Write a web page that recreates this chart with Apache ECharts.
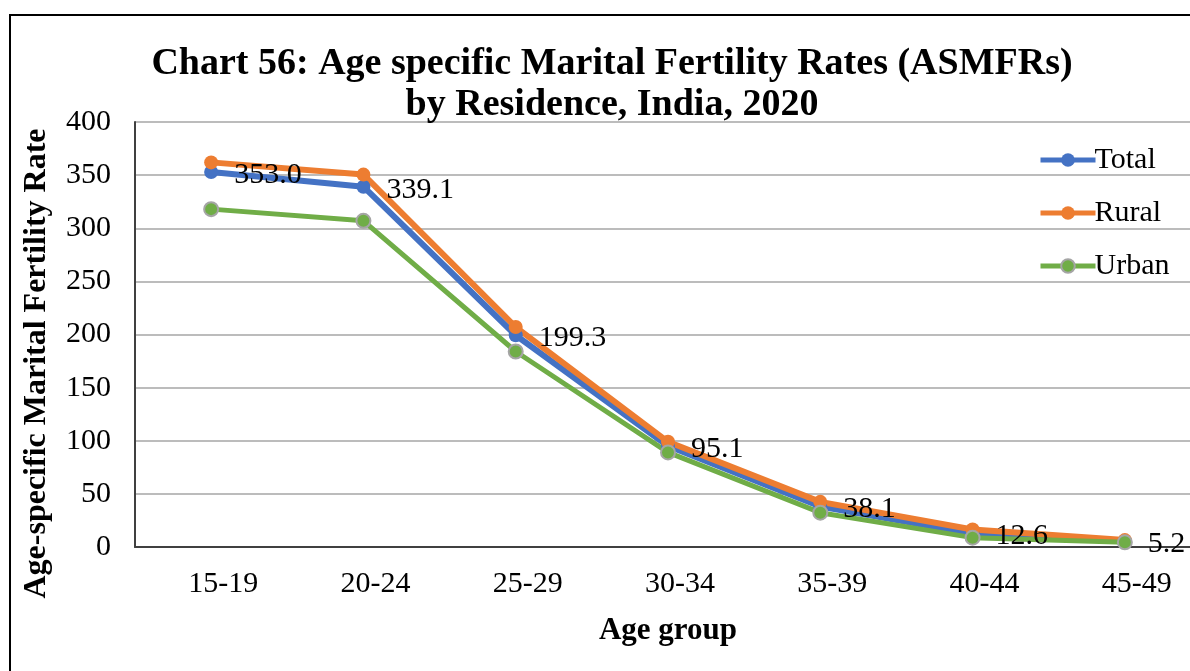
<!DOCTYPE html>
<html>
<head>
<meta charset="utf-8">
<script src="https://cdn.jsdelivr.net/npm/echarts@6/dist/echarts.min.js"></script>
<style>
html,body{margin:0;padding:0;background:#fff;overflow:hidden;width:1190px;height:671px;}
#chart{width:1210px;height:671px;}
</style>
</head>
<body>
<div id="chart"></div>
<script>
const categories = ['15-19','20-24','25-29','30-34','35-39','40-44','45-49'];
const totalValues = [353.0, 339.1, 199.3, 95.1, 38.1, 12.6, 5.2];
const ruralValues = [362, 350.5, 207, 99, 42.5, 16.5, 6.5];
const urbanValues = [318, 307, 184, 89, 32.3, 8.8, 4.4];
const yTicks = {min: 0, max: 400, interval: 50};
const titleText = 'Chart 56: Age specific Marital Fertility Rates (ASMFRs)\nby Residence, India, 2020';

const FONT = "'Liberation Serif', 'Times New Roman', serif";
const chart = echarts.init(document.getElementById('chart'), null, {renderer: 'canvas'});

function lineSeries(name, data, color, width, extra) {
  return Object.assign({
    name: name,
    type: 'line',
    data: data,
    symbol: 'circle',
    symbolSize: 14,
    lineStyle: {color: color, width: width},
    itemStyle: {color: color},
    emphasis: {disabled: true},
    animation: false
  }, extra || {});
}

chart.setOption({
  backgroundColor: '#ffffff',
  animation: false,
  graphic: [{
    type: 'rect',
    shape: {x: 10, y: 15, width: 1300, height: 800},
    style: {fill: 'none', stroke: '#000', lineWidth: 2},
    silent: true,
    z: -10
  }],
  title: {
    text: titleText,
    left: 607,
    textAlign: 'center',
    top: 39,
    textStyle: {fontFamily: FONT, fontWeight: 'bold', fontSize: 38, lineHeight: 41, color: '#000'}
  },
  legend: {
    orient: 'vertical',
    left: 1033,
    top: 140,
    itemWidth: 55,
    itemHeight: 17,
    itemGap: 23,
    data: [
      {name: 'Total', lineStyle: {width: 5}},
      {name: 'Rural', lineStyle: {width: 5}},
      {name: 'Urban', lineStyle: {width: 5}}
    ],
    textStyle: {fontFamily: FONT, fontSize: 30, color: '#000', padding: [0, 0, 0, -6]}
  },
  grid: {left: 135, top: 122, width: 1066, height: 425, containLabel: false},
  xAxis: {
    type: 'category',
    data: categories,
    boundaryGap: true,
    name: 'Age group',
    nameLocation: 'middle',
    nameGap: 68,
    nameTextStyle: {fontFamily: FONT, fontWeight: 'bold', fontSize: 31, color: '#000'},
    axisLine: {lineStyle: {color: '#404040', width: 2}},
    axisTick: {show: false},
    axisLabel: {fontFamily: FONT, fontSize: 30, color: '#000', margin: 22, padding: [0, 0, 0, 24]}
  },
  yAxis: {
    type: 'value',
    min: yTicks.min,
    max: yTicks.max,
    interval: yTicks.interval,
    name: 'Age-specific Marital Fertility Rate',
    nameLocation: 'middle',
    nameGap: 82,
    nameTextStyle: {fontFamily: FONT, fontWeight: 'bold', fontSize: 32, color: '#000', padding: [0, 58, 0, 0]},
    axisLine: {show: true, lineStyle: {color: '#404040', width: 2}},
    axisTick: {show: false},
    splitLine: {lineStyle: {color: '#A6A6A6', width: 1.5}},
    axisLabel: {fontFamily: FONT, fontSize: 30, color: '#000', margin: 24}
  },
  series: [
    lineSeries('Total', totalValues, '#4472C4', 6, {
      label: {
        show: true,
        position: 'right',
        distance: 16,
        offset: [0, 3],
        fontFamily: FONT,
        fontSize: 30,
        color: '#000',
        formatter: p => p.value.toFixed(1)
      }
    }),
    lineSeries('Rural', ruralValues, '#ED7D31', 6),
    lineSeries('Urban', urbanValues, '#70AD47', 5, {
      itemStyle: {color: '#70AD47', borderColor: '#A5A5A5', borderWidth: 2}
    })
  ]
});
</script>
</body>
</html>
